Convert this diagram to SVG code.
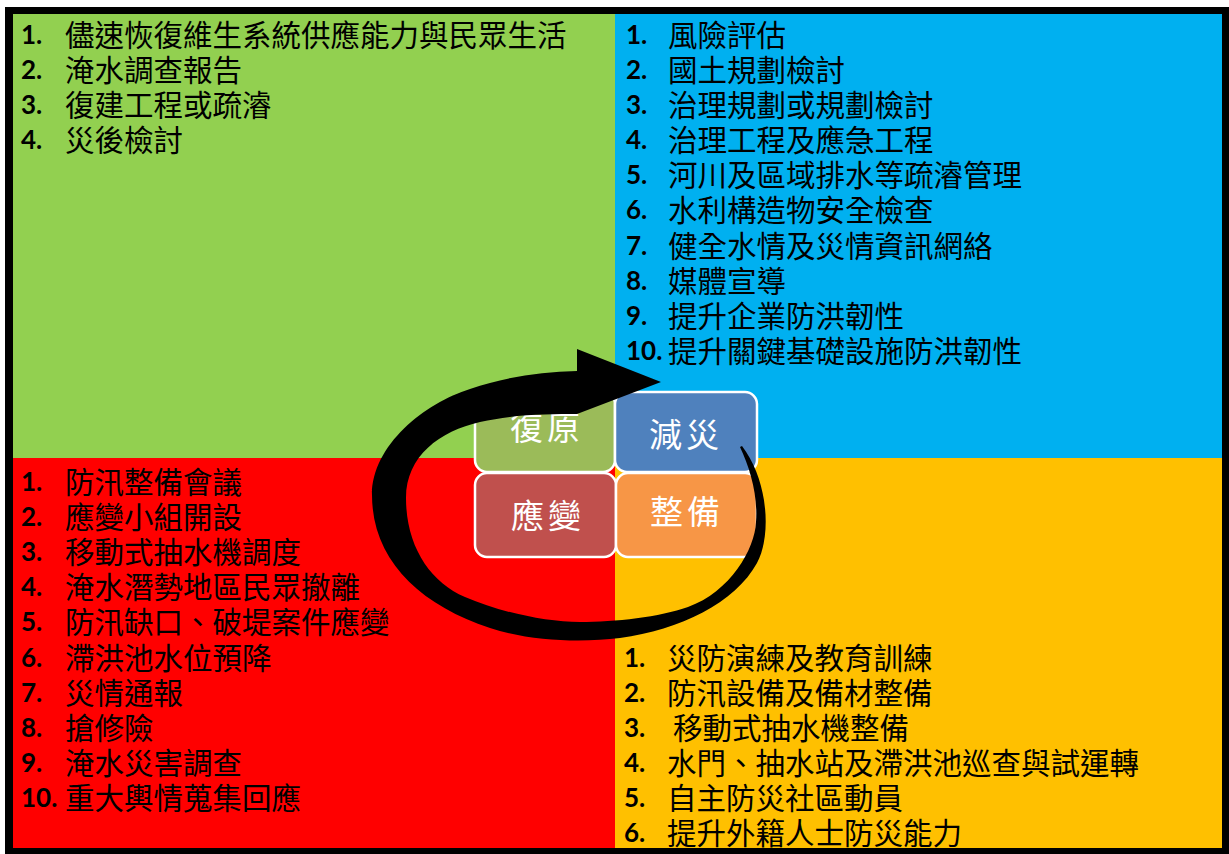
<svg xmlns="http://www.w3.org/2000/svg" width="1229" height="854" viewBox="0 0 1229 854">
<style>
.n{font-family:Lato,"Liberation Sans",sans-serif;font-weight:bold;font-size:26px;fill:#000}
.t{font-family:"Noto Sans CJK TC","Noto Sans CJK SC",sans-serif;font-size:29.5px;fill:#000}
.bx{stroke:#fff;stroke-width:2.5}
.bt{font-family:"Noto Sans CJK TC","Noto Sans CJK SC",sans-serif;font-size:33px;fill:#fff;text-anchor:middle;letter-spacing:4px}
</style>
<rect x="0" y="0" width="1229" height="854" fill="#fff"/>
<rect x="5" y="7" width="1224" height="847" fill="#000"/>
<g id="q-recovery">
<rect x="13" y="14" width="602" height="444" fill="#92D050"/>
<text class="n" x="21" y="44">1.</text><text class="t" x="65" y="46">儘速恢復維生系統供應能力與民眾生活</text>
<text class="n" x="21" y="79">2.</text><text class="t" x="65" y="81">淹水調查報告</text>
<text class="n" x="21" y="114">3.</text><text class="t" x="65" y="116">復建工程或疏濬</text>
<text class="n" x="21" y="149">4.</text><text class="t" x="65" y="151">災後檢討</text>
</g>
<g id="q-mitigation">
<rect x="615" y="14" width="607" height="444" fill="#00B0F0"/>
<text class="n" x="626" y="44">1.</text><text class="t" x="668" y="46">風險評估</text>
<text class="n" x="626" y="79">2.</text><text class="t" x="668" y="81">國土規劃檢討</text>
<text class="n" x="626" y="114">3.</text><text class="t" x="668" y="116">治理規劃或規劃檢討</text>
<text class="n" x="626" y="149">4.</text><text class="t" x="668" y="151">治理工程及應急工程</text>
<text class="n" x="626" y="184">5.</text><text class="t" x="668" y="186">河川及區域排水等疏濬管理</text>
<text class="n" x="626" y="219">6.</text><text class="t" x="668" y="221">水利構造物安全檢查</text>
<text class="n" x="626" y="255">7.</text><text class="t" x="668" y="257">健全水情及災情資訊網絡</text>
<text class="n" x="626" y="290">8.</text><text class="t" x="668" y="292">媒體宣導</text>
<text class="n" x="626" y="325">9.</text><text class="t" x="668" y="327">提升企業防洪韌性</text>
<text class="n" x="626" y="360">10.</text><text class="t" x="668" y="362">提升關鍵基礎設施防洪韌性</text>
</g>
<g id="q-response">
<rect x="13" y="458" width="602" height="390" fill="#FF0000"/>
<text class="n" x="21" y="491">1.</text><text class="t" x="65" y="493">防汛整備會議</text>
<text class="n" x="21" y="526">2.</text><text class="t" x="65" y="528">應變小組開設</text>
<text class="n" x="21" y="561">3.</text><text class="t" x="65" y="563">移動式抽水機調度</text>
<text class="n" x="21" y="596">4.</text><text class="t" x="65" y="598">淹水潛勢地區民眾撤離</text>
<text class="n" x="21" y="631">5.</text><text class="t" x="65" y="633">防汛缺口、破堤案件應變</text>
<text class="n" x="21" y="667">6.</text><text class="t" x="65" y="669">滯洪池水位預降</text>
<text class="n" x="21" y="702">7.</text><text class="t" x="65" y="704">災情通報</text>
<text class="n" x="21" y="737">8.</text><text class="t" x="65" y="739">搶修險</text>
<text class="n" x="21" y="772">9.</text><text class="t" x="65" y="774">淹水災害調查</text>
<text class="n" x="21" y="807">10.</text><text class="t" x="65" y="809">重大輿情蒐集回應</text>
</g>
<g id="q-preparedness">
<rect x="615" y="458" width="607" height="390" fill="#FFC000"/>
<text class="n" x="624" y="667">1.</text><text class="t" x="667" y="669">災防演練及教育訓練</text>
<text class="n" x="624" y="702">2.</text><text class="t" x="667" y="704">防汛設備及備材整備</text>
<text class="n" x="624" y="737">3.</text><text class="t" x="673" y="739">移動式抽水機整備</text>
<text class="n" x="624" y="772">4.</text><text class="t" x="667" y="774">水門、抽水站及滯洪池巡查與試運轉</text>
<text class="n" x="624" y="807">5.</text><text class="t" x="667" y="809">自主防災社區動員</text>
<text class="n" x="624" y="842">6.</text><text class="t" x="667" y="844">提升外籍人士防災能力</text>
</g>
<g id="box-recovery">
<rect class="bx" x="475" y="392" width="140" height="80" rx="12" fill="#9BBB59"/>
<text class="bt" x="547" y="440">復原</text>
</g>
<g id="box-mitigation">
<rect class="bx" x="615" y="392" width="142" height="80" rx="12" fill="#4F81BD"/>
<text class="bt" x="686" y="447">減災</text>
</g>
<g id="box-response">
<rect class="bx" x="475" y="473" width="141" height="84" rx="12" fill="#C0504D"/>
<text class="bt" x="548" y="528">應變</text>
</g>
<g id="box-preparedness">
<rect class="bx" x="616" y="473" width="141" height="84" rx="12" fill="#F79646"/>
<text class="bt" x="687" y="524">整備</text>
</g>
<g id="connectors">
<path fill="#000" d="M577,349 L661,382 L577,414 C550,414 515,414 480,422 C440,431 406,456 406,498 C406,546 430,582 465,597 C500,612 545,622 580,622 C615,622 660,617 688,607 C730,592 755,549 756,522 C758,495 750,468 740,447 L742,446 C768,480 772,535 757,563 C735,603 680,630 620,638 C580,643 530,641 490,628 C420,605 372,560 372,495 C372,445 425,403 470,389 C505,377 540,372 577,371 Z"/>
</g>
</svg>
